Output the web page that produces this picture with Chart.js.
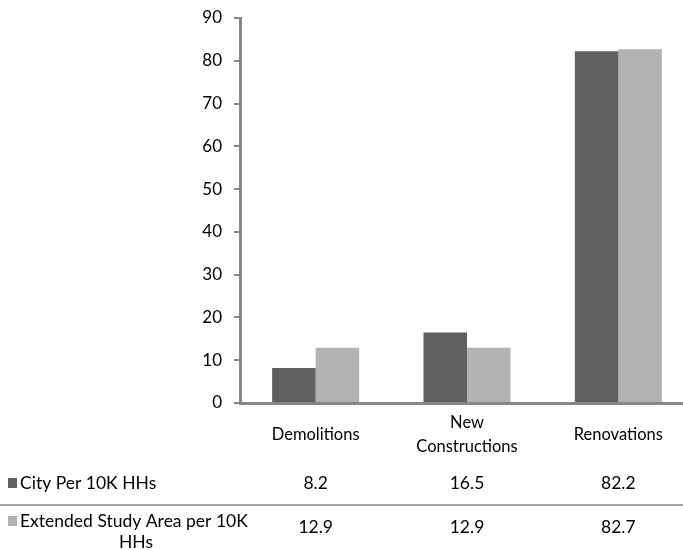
<!DOCTYPE html>
<html>
<head>
<meta charset="utf-8">
<script src="https://cdn.jsdelivr.net/npm/chart.js@4"></script>
<style>
  html, body { margin: 0; padding: 0; background: #fff; overflow: hidden; }
  #wrap { position: relative; width: 695px; height: 550px; }
</style>
</head>
<body>
<div id="wrap"><canvas id="c"></canvas></div>
<script>
// Categories along the x axis
const categories = ['Demolitions', ['New', 'Constructions'], 'Renovations'];
// Series names and values per category
const seriesNames = ['City Per 10K HHs', 'Extended Study Area per 10K HHs'];
const cityValues = [8.2, 16.5, 82.2];
const extendedValues = [12.9, 12.9, 82.7];
// Value axis ticks
const yTicks = [0, 10, 20, 30, 40, 50, 60, 70, 80, 90];

const FONT = 'Lato';
const AXIS = '#868686';
const COLORS = ['#606060', '#b2b2b2'];

// Draws the data table beneath the category axis
const dataTable = {
  id: 'dataTable',
  afterDraw(chart) {
    const ctx = chart.ctx;
    const x = chart.scales.x;
    ctx.save();
    // row separator
    ctx.strokeStyle = '#a3a3a3';
    ctx.lineWidth = 2;
    ctx.beginPath();
    ctx.moveTo(0, 505);
    ctx.lineTo(683, 505);
    ctx.stroke();

    ctx.font = '17.5px ' + FONT;
    ctx.textBaseline = 'middle';

    // first row: city series
    ctx.fillStyle = COLORS[0];
    ctx.fillRect(8, 478, 9, 10);
    ctx.fillStyle = '#000';
    ctx.textAlign = 'left';
    ctx.fillText(seriesNames[0], 20, 483);
    ctx.textAlign = 'center';
    cityValues.forEach((v, i) => ctx.fillText(v.toFixed(1), x.getPixelForValue(i), 483));

    // second row: extended study area series (label wraps)
    ctx.fillStyle = COLORS[1];
    ctx.fillRect(8, 516, 9, 10);
    ctx.fillStyle = '#000';
    ctx.textAlign = 'left';
    ctx.fillText('Extended Study Area per 10K', 20, 521);
    ctx.textAlign = 'center';
    ctx.fillText('HHs', 136, 542);
    extendedValues.forEach((v, i) => ctx.fillText(v.toFixed(1), x.getPixelForValue(i), 527));
    ctx.restore();
  }
};

new Chart(document.getElementById('c'), {
  type: 'bar',
  data: {
    labels: categories,
    datasets: [
      { label: seriesNames[0], data: cityValues, backgroundColor: COLORS[0], borderWidth: 0 },
      { label: seriesNames[1], data: extendedValues, backgroundColor: COLORS[1], borderWidth: 0 }
    ]
  },
  options: {
    responsive: true,
    maintainAspectRatio: false,
    animation: false,
    layout: { padding: { top: 18, right: 1, bottom: 0, left: 0 } },
    datasets: { bar: { categoryPercentage: 0.575, barPercentage: 1.0 } },
    plugins: { legend: { display: false }, tooltip: { enabled: false } },
    scales: {
      x: {
        grid: { display: false, drawTicks: false },
        border: { display: true, color: AXIS, width: 3 },
        ticks: { color: '#000', font: { family: FONT, size: 16.5, lineHeight: 1.45 }, padding: 20, crossAlign: 'center', maxRotation: 0, autoSkip: false },
        afterFit(s) { s.height = 147; s.paddingLeft = 0; s.paddingRight = 0; }
      },
      y: {
        min: 0,
        max: 90,
        afterBuildTicks(s) { s.ticks = yTicks.map(v => ({ value: v })); },
        grid: { display: true, drawOnChartArea: false, drawTicks: true, tickLength: 6, color: AXIS, lineWidth: 2 },
        border: { display: true, color: AXIS, width: 3 },
        ticks: { color: '#000', font: { family: FONT, size: 17 }, padding: 12 },
        afterFit(s) { s.width = 240; s.paddingTop = 0; s.paddingBottom = 0; }
      }
    }
  },
  plugins: [dataTable]
});
</script>
</body>
</html>
